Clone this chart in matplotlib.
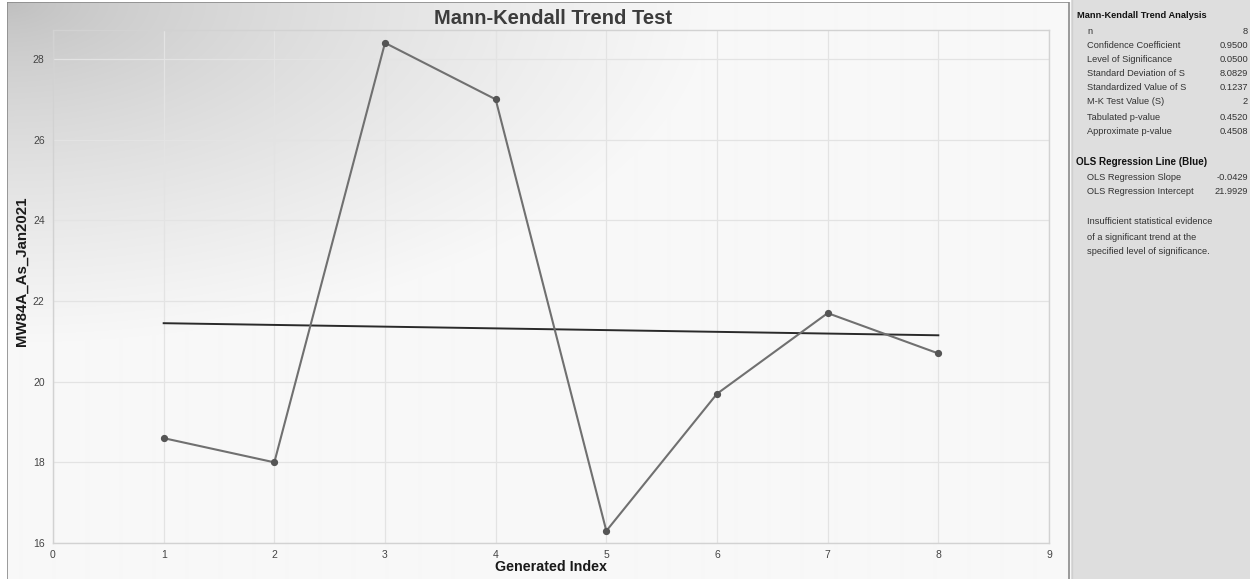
import numpy as np
import matplotlib
matplotlib.use("Agg")
import matplotlib.pyplot as plt
from matplotlib.patches import Rectangle

# ---- data ----
x_index = [1, 2, 3, 4, 5, 6, 7, 8]
values = [18.6, 18.0, 28.4, 27.0, 16.3, 19.7, 21.7, 20.7]
x_ticks = [0, 1, 2, 3, 4, 5, 6, 7, 8, 9]
y_ticks = [16, 18, 20, 22, 24, 26, 28]

title = "Mann-Kendall Trend Test"
x_label = "Generated Index"
y_label = "MW84A_As_Jan2021"

mk_header = "Mann-Kendall Trend Analysis"
mk_labels = ["n", "Confidence Coefficient", "Level of Significance",
             "Standard Deviation of S", "Standardized Value of S",
             "M-K Test Value (S)", "Tabulated p-value", "Approximate p-value"]
mk_values = ["8", "0.9500", "0.0500", "8.0829", "0.1237", "2", "0.4520", "0.4508"]
ols_header = "OLS Regression Line (Blue)"
ols_labels = ["OLS Regression Slope", "OLS Regression Intercept"]
ols_values = ["-0.0429", "21.9929"]
conclusion = ["Insufficient statistical evidence",
              "of a significant trend at the",
              "specified level of significance."]

plt.rcParams['font.family'] = ['Liberation Sans', 'DejaVu Sans']

W, H = 1250, 579
fig = plt.figure(figsize=(W / 100, H / 100), dpi=100)
fig.patch.set_facecolor('white')

def fx(px):
    return px / W

def fy(py):
    return 1 - py / H

# ---- background gradient for chart region ----
cx0, cx1, cy0, cy1 = 7, 1070, 2, 579
bg = fig.add_axes([fx(cx0), fy(cy1), fx(cx1 - cx0), (cy1 - cy0) / H], zorder=0)
gw, gh = cx1 - cx0, cy1 - cy0
xx, yy = np.meshgrid(np.arange(gw), np.arange(gh))
d = np.sqrt((xx / 700.0) ** 2 + (yy / 340.0) ** 2)
d = np.clip(d, 0, 1)
v = (190 + (248 - 190) * d ** 0.7) / 255.0
img = np.dstack([v, v, v])
bg.imshow(img, aspect='auto', extent=[0, gw, gh, 0], interpolation='bilinear')
bg.set_xlim(0, gw)
bg.set_ylim(gh, 0)
bg.axis('off')
bg.add_patch(Rectangle((0, 0), gw - 1, gh + 5, fill=False, edgecolor='#8a8a8a', lw=1.2))

# ---- side panel ----
panel = fig.add_axes([fx(1071), 0, fx(W - 1071), 1], zorder=0)
panel.set_xlim(1071, W)
panel.set_ylim(H, 0)
panel.set_facecolor('#dedede')
for s in panel.spines.values():
    s.set_visible(False)
panel.set_xticks([])
panel.set_yticks([])
panel.axvline(1071.5, color='#cfcfcf', lw=1)

fs = 6.7
tc = '#333333'
panel.text(1077, 15, mk_header, fontsize=fs, fontweight='bold', color='#111111', va='center')
row_y = [31, 45, 59, 73, 88, 102, 117, 131]
for yy_, lab, val in zip(row_y, mk_labels, mk_values):
    panel.text(1087, yy_, lab, fontsize=fs, color=tc, va='center')
    panel.text(1248, yy_, val, fontsize=fs, color=tc, va='center', ha='right')
panel.text(1076, 162, ols_header, fontsize=fs + 0.4, fontweight='bold', color='#111111', va='center')
for yy_, lab, val in zip([177, 192], ols_labels, ols_values):
    panel.text(1087, yy_, lab, fontsize=fs, color=tc, va='center')
    panel.text(1248, yy_, val, fontsize=fs, color=tc, va='center', ha='right')
for yy_, line in zip([221, 237, 252], conclusion):
    panel.text(1087, yy_, line, fontsize=fs, color=tc, va='center')

# ---- main plot ----
L, R, T, B = 53, 1049, 30, 543
ax = fig.add_axes([fx(L), fy(B), fx(R - L), (B - T) / H], zorder=2)
ax.set_facecolor('none')
ax.set_xlim(0, 9)
ymax = 28 + (59 - 30) / 40.3
ax.set_ylim(16, ymax)
ax.set_xticks(x_ticks)
ax.set_yticks(y_ticks)
ax.grid(True, color='#e3e3e3', lw=0.9)
ax.set_axisbelow(True)
for s in ax.spines.values():
    s.set_color('#d2d2d2')
    s.set_linewidth(1.0)
ax.tick_params(length=0, labelsize=7.5, labelcolor='#444444')
ax.tick_params(axis='x', pad=5)
ax.tick_params(axis='y', pad=6)

ax.plot(x_index, values, color='#707070', lw=1.5, marker='o', ms=4.2,
        mfc='#555555', mec='#555555', zorder=3)

xa = np.array(x_index, dtype=float)
slope, intercept = np.polyfit(xa, np.array(values), 1)
xl = np.array([x_index[0], x_index[-1]], dtype=float)
ax.plot(xl, slope * xl + intercept, color='#2a2a2a', lw=1.4, zorder=2)

fig.text(fx(553), fy(18), title, fontsize=14.5, fontweight='bold', color='#3c3c3c',
         ha='center', va='center')
fig.text(fx(551), fy(567), x_label, fontsize=10.3, fontweight='bold', color='#1a1a1a',
         ha='center', va='center')
fig.text(fx(22), fy(271), y_label, fontsize=10.8, fontweight='bold', color='#1a1a1a',
         ha='center', va='center', rotation=90)

fig.savefig('out.png', dpi=100)
